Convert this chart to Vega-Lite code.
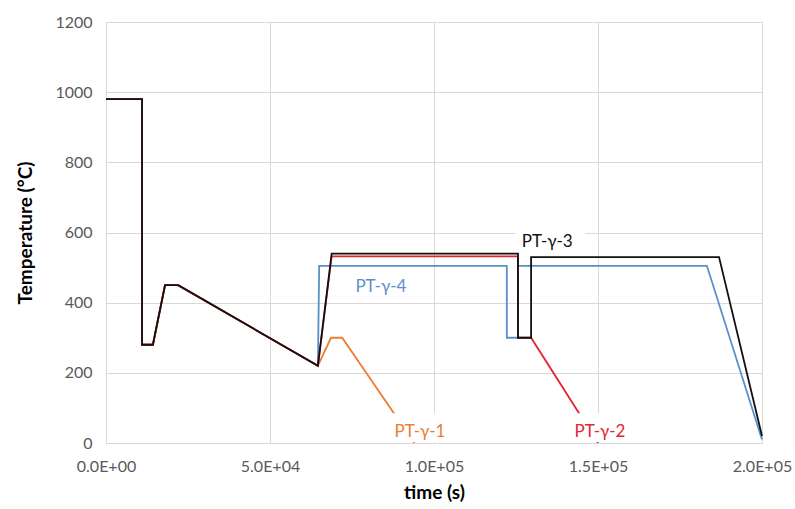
{
  "$schema": "https://vega.github.io/schema/vega-lite/v6.json",
  "autosize": "none",
  "width": 656,
  "height": 421,
  "padding": {"left": 106, "top": 22, "right": 33, "bottom": 66},
  "background": "white",
  "config": {
    "view": {"stroke": null},
    "font": "Lato",
    "axis": {"labelFont": "Lato", "titleFont": "Lato"}
  },
  "datasets": {
    "lines": [
      {"series": "PT-γ-4", "o": 1, "t": 0, "T": 980},
      {"series": "PT-γ-4", "o": 2, "t": 11000, "T": 980},
      {"series": "PT-γ-4", "o": 3, "t": 11000, "T": 280},
      {"series": "PT-γ-4", "o": 4, "t": 14300, "T": 280},
      {"series": "PT-γ-4", "o": 5, "t": 18000, "T": 450},
      {"series": "PT-γ-4", "o": 6, "t": 22000, "T": 450},
      {"series": "PT-γ-4", "o": 7, "t": 64600, "T": 220},
      {"series": "PT-γ-4", "o": 8, "t": 65000, "T": 505},
      {"series": "PT-γ-4", "o": 9, "t": 122200, "T": 505},
      {"series": "PT-γ-4", "o": 10, "t": 122200, "T": 300},
      {"series": "PT-γ-4", "o": 11, "t": 125600, "T": 300},
      {"series": "PT-γ-4", "o": 12, "t": 125600, "T": 505},
      {"series": "PT-γ-4", "o": 13, "t": 183200, "T": 505},
      {"series": "PT-γ-4", "o": 14, "t": 200000, "T": 10},

      {"series": "PT-γ-1", "o": 1, "t": 0, "T": 980},
      {"series": "PT-γ-1", "o": 2, "t": 11000, "T": 980},
      {"series": "PT-γ-1", "o": 3, "t": 11000, "T": 280},
      {"series": "PT-γ-1", "o": 4, "t": 14300, "T": 280},
      {"series": "PT-γ-1", "o": 5, "t": 18000, "T": 450},
      {"series": "PT-γ-1", "o": 6, "t": 22000, "T": 450},
      {"series": "PT-γ-1", "o": 7, "t": 64600, "T": 220},
      {"series": "PT-γ-1", "o": 8, "t": 68600, "T": 300},
      {"series": "PT-γ-1", "o": 9, "t": 72000, "T": 300},
      {"series": "PT-γ-1", "o": 10, "t": 94000, "T": 0},

      {"series": "PT-γ-2", "o": 1, "t": 0, "T": 980},
      {"series": "PT-γ-2", "o": 2, "t": 11000, "T": 980},
      {"series": "PT-γ-2", "o": 3, "t": 11000, "T": 280},
      {"series": "PT-γ-2", "o": 4, "t": 14300, "T": 280},
      {"series": "PT-γ-2", "o": 5, "t": 18000, "T": 450},
      {"series": "PT-γ-2", "o": 6, "t": 22000, "T": 450},
      {"series": "PT-γ-2", "o": 7, "t": 64600, "T": 220},
      {"series": "PT-γ-2", "o": 8, "t": 68800, "T": 532},
      {"series": "PT-γ-2", "o": 9, "t": 125600, "T": 532},
      {"series": "PT-γ-2", "o": 10, "t": 125600, "T": 300},
      {"series": "PT-γ-2", "o": 11, "t": 129600, "T": 300},
      {"series": "PT-γ-2", "o": 12, "t": 150000, "T": 0},

      {"series": "PT-γ-3", "o": 1, "t": 0, "T": 980},
      {"series": "PT-γ-3", "o": 2, "t": 11000, "T": 980},
      {"series": "PT-γ-3", "o": 3, "t": 11000, "T": 280},
      {"series": "PT-γ-3", "o": 4, "t": 14300, "T": 280},
      {"series": "PT-γ-3", "o": 5, "t": 18000, "T": 450},
      {"series": "PT-γ-3", "o": 6, "t": 22000, "T": 450},
      {"series": "PT-γ-3", "o": 7, "t": 64600, "T": 220},
      {"series": "PT-γ-3", "o": 8, "t": 68800, "T": 540},
      {"series": "PT-γ-3", "o": 9, "t": 125600, "T": 540},
      {"series": "PT-γ-3", "o": 10, "t": 125600, "T": 300},
      {"series": "PT-γ-3", "o": 11, "t": 129600, "T": 300},
      {"series": "PT-γ-3", "o": 12, "t": 129600, "T": 530},
      {"series": "PT-γ-3", "o": 13, "t": 186900, "T": 530},
      {"series": "PT-γ-3", "o": 14, "t": 200000, "T": 20}
    ],
    "boxes": [
      {"t1": 86000, "t2": 106400, "T1": 3, "T2": 85},
      {"t1": 143000, "t2": 160500, "T1": 3, "T2": 85},
      {"t1": 124800, "t2": 146000, "T1": 552, "T2": 615}
    ],
    "labels": [
      {"series": "PT-γ-1", "t": 95700, "T": 31},
      {"series": "PT-γ-2", "t": 150600, "T": 31},
      {"series": "PT-γ-3", "t": 134500, "T": 572},
      {"series": "PT-γ-4", "t": 83800, "T": 444}
    ]
  },
  "layer": [
    {
      "data": {"name": "lines"},
      "transform": [{"filter": "datum.series === 'PT-γ-4'"}],
      "mark": {"type": "line", "strokeWidth": 1.8},
      "encoding": {
        "x": {
          "field": "t", "type": "quantitative",
          "scale": {"domain": [0, 200000], "nice": false},
          "axis": {
            "title": "time (s)",
            "values": [0, 50000, 100000, 150000, 200000],
            "labelExpr": "upper(replace(format(datum.value, '.1e'), 'e+', 'e+0'))",
            "labelFlush": false,
            "grid": true, "gridColor": "#d9d9d9",
            "domainColor": "#d9d9d9", "ticks": false,
            "labelColor": "#595959", "labelFontSize": 16, "labelPadding": 15,
            "titleFontSize": 19, "titleFontWeight": "bold", "titleColor": "#000000", "titlePadding": 9
          }
        },
        "y": {
          "field": "T", "type": "quantitative",
          "scale": {"domain": [0, 1200], "nice": false},
          "axis": {
            "title": "Temperature (°C)",
            "values": [0, 200, 400, 600, 800, 1000, 1200],
            "format": "d",
            "labelFlush": false,
            "grid": true, "gridColor": "#d9d9d9",
            "domainColor": "#d9d9d9", "ticks": false,
            "labelColor": "#595959", "labelFontSize": 16, "labelPadding": 14,
            "titleFontSize": 19, "titleFontWeight": "bold", "titleColor": "#000000", "titlePadding": 19
          }
        },
        "order": {"field": "o"},
        "color": {
          "field": "series", "type": "nominal", "legend": null,
          "scale": {"domain": ["PT-γ-1", "PT-γ-2", "PT-γ-3", "PT-γ-4"], "range": ["#ED7D31", "#E3262D", "#111111", "#5B8FC9"]}
        }
      }
    },
    {
      "data": {"name": "lines"},
      "transform": [{"filter": "datum.series === 'PT-γ-1'"}],
      "mark": {"type": "line", "strokeWidth": 1.8},
      "encoding": {
        "x": {"field": "t", "type": "quantitative"},
        "y": {"field": "T", "type": "quantitative"},
        "order": {"field": "o"},
        "color": {"field": "series", "type": "nominal", "legend": null}
      }
    },
    {
      "data": {"name": "lines"},
      "transform": [{"filter": "datum.series === 'PT-γ-2'"}],
      "mark": {"type": "line", "strokeWidth": 1.8},
      "encoding": {
        "x": {"field": "t", "type": "quantitative"},
        "y": {"field": "T", "type": "quantitative"},
        "order": {"field": "o"},
        "color": {"field": "series", "type": "nominal", "legend": null}
      }
    },
    {
      "data": {"name": "lines"},
      "transform": [{"filter": "datum.series === 'PT-γ-3'"}],
      "mark": {"type": "line", "strokeWidth": 1.8},
      "encoding": {
        "x": {"field": "t", "type": "quantitative"},
        "y": {"field": "T", "type": "quantitative"},
        "order": {"field": "o"},
        "color": {"field": "series", "type": "nominal", "legend": null}
      }
    },
    {
      "data": {"name": "boxes"},
      "mark": {"type": "rect", "fill": "white"},
      "encoding": {
        "x": {"field": "t1", "type": "quantitative"},
        "x2": {"field": "t2"},
        "y": {"field": "T1", "type": "quantitative"},
        "y2": {"field": "T2"}
      }
    },
    {
      "data": {"name": "labels"},
      "mark": {"type": "text", "fontSize": 17, "font": "Lato", "align": "center", "baseline": "middle"},
      "encoding": {
        "x": {"field": "t", "type": "quantitative"},
        "y": {"field": "T", "type": "quantitative"},
        "text": {"field": "series"},
        "color": {"field": "series", "type": "nominal", "legend": null}
      }
    },
    {
      "mark": {"type": "rule", "color": "#7f7f7f", "strokeWidth": 2},
      "encoding": {"y": {"datum": 1200}}
    },
    {
      "mark": {"type": "rule", "color": "#7f7f7f", "strokeWidth": 2},
      "encoding": {"x": {"datum": 200000}}
    }
  ]
}
